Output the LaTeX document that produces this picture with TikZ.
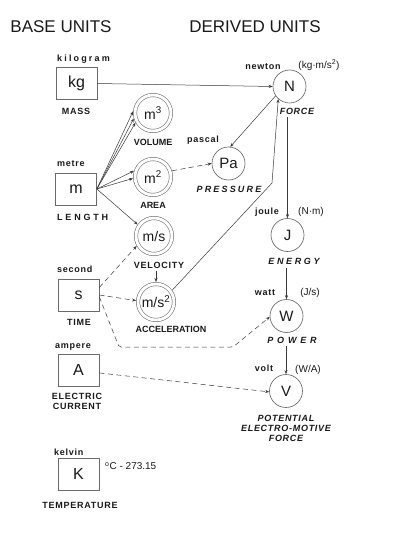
\documentclass[tikz,border=0pt]{standalone}
\usepackage{fontspec}
\setmainfont{Liberation Sans}
\usetikzlibrary{arrows.meta}
\newcommand\lsp[1]{\addfontfeature{LetterSpace=#1}}
\definecolor{txt}{HTML}{1A1A1A}
\definecolor{edgecol}{HTML}{6A6A6A}
\definecolor{conn}{HTML}{3A3A3A}
\begin{document}
\begin{tikzpicture}[x=1pt,y=-1pt,
 every node/.style={text=txt, inner sep=0pt},
 hdr/.style={font=\fontsize{17}{17}\selectfont},
 ubox/.style={draw=edgecol, line width=0.7pt, minimum width=41pt, minimum height=32pt, font=\fontsize{16}{16}\selectfont},
 dc/.style={circle, draw=edgecol, line width=0.55pt, double=white, double distance=2.9pt, minimum size=36pt, outer sep=2pt, font=\fontsize{14}{14}\selectfont},
 sc/.style={circle, draw=edgecol, line width=0.65pt, minimum size=33pt, outer sep=0.3pt, font=\fontsize{15}{15}\selectfont},
 lab/.style={font=\fontsize{9}{10}\selectfont\bfseries\lsp{8}},
 ilab/.style={font=\fontsize{9}{10}\selectfont\bfseries\itshape\lsp{8}},
 unit/.style={font=\fontsize{10}{10}\selectfont},
 arr/.style={draw=conn, line width=0.5pt, -{Stealth[length=4pt,width=3pt]}},
 darr/.style={arr, dash pattern=on 5pt off 3.5pt},
]
\fill[white] (0,0) rectangle (400,545);
\useasboundingbox (0,0) rectangle (400,545);

% headers
\node[hdr] (bu) at (61,27) {BASE UNITS};
\node[hdr] (du) at (255,27) {DERIVED UNITS};

% base unit boxes
\node[ubox] (kg) at (76.5,83.5) {kg};
\node[ubox] (m) at (76,189) {m};
\node[ubox] (s) at (78.5,295) {s};
\node[ubox] (A) at (78.5,370) {A};
\node[ubox] (K) at (78.5,474) {K};

\node[lab, anchor=west, font=\fontsize{9}{10}\selectfont\bfseries\lsp{24}] (kgname) at (57,59) {kilogram};
\node[lab] (kgq) at (76,111) {MASS};
\node[lab, anchor=west] (mname) at (57,164) {metre};
\node[lab, anchor=west, font=\fontsize{9}{10}\selectfont\bfseries] (mq) at (57,217) {L\kern2.8pt E\kern2.8pt N\kern2.8pt G\kern2.8pt T\kern2.8pt H};
\node[lab, anchor=west] (sname) at (57,269) {second};
\node[lab] (sq) at (79,322) {TIME};
\node[lab, anchor=west] (Aname) at (55,347) {ampere};
\node[lab, align=center] (Aq) at (77,401) {ELECTRIC\\CURRENT};
\node[lab, anchor=west] (Kname) at (54,452) {kelvin};
\node[lab] (Kq) at (80,505) {TEMPERATURE};
\node[unit, anchor=west] (Kc) at (105,466) {\textsuperscript{o}C - 273.15};

% compound circles
\node[dc] (m3) at (153,113) {m\textsuperscript{3}};
\node[dc] (m2) at (153,177) {m\textsuperscript{2}};
\node[dc] (ms) at (154,236) {m/s};
\node[dc] (ms2) at (156,302) {m/s\textsuperscript{2}};
\node[lab, font=\fontsize{9}{10}\selectfont\bfseries] (m3q) at (153,142) {VOLUME};
\node[lab, font=\fontsize{9}{10}\selectfont\bfseries] (m2q) at (153,205) {AREA};
\node[lab] (msq) at (159,265) {VELOCITY};
\node[lab, font=\fontsize{9}{10}\selectfont\bfseries] (ms2q) at (171,329) {ACCELERATION};

% derived units
\node[sc] (N) at (289.5,86.5) {N};
\node[lab] (Nname) at (263,67) {newton};
\node[unit] (Nu) at (319,65) {(kg·m/s\textsuperscript{2})};
\node[ilab] (Nq) at (297,111) {FORCE};

\node[sc] (Pa) at (228.5,163.5) {Pa};
\node[lab] (Paname) at (203,140) {pascal};
\node[ilab, font=\fontsize{9}{10}\selectfont\bfseries\itshape\lsp{24}] (Paq) at (229,189) {PRESSURE};

\node[sc] (J) at (287.5,235) {J};
\node[lab] (Jname) at (267,212) {joule};
\node[unit] (Ju) at (311,212) {(N·m)};
\node[ilab, font=\fontsize{9}{10}\selectfont\bfseries\itshape\lsp{29}] (Jq) at (294,261) {ENERGY};

\node[sc] (W) at (286.5,316) {W};
\node[lab] (Wname) at (265,293) {watt};
\node[unit] (Wu) at (310,293) {(J/s)};
\node[ilab, font=\fontsize{9}{10}\selectfont\bfseries\itshape\lsp{42}] (Wq) at (292,340) {POWER};

\node[sc] (V) at (286,391) {V};
\node[lab] (Vname) at (264,368) {volt};
\node[unit] (Vu) at (308,370) {(W/A)};
\node[ilab, align=center] (Vq) at (286,428) {POTENTIAL\\ELECTRO-MOTIVE\\FORCE};

% helper coordinates
\coordinate (Nb) at (287.5,117);
\coordinate (Jb) at (286.5,268);
\coordinate (Wb) at (286,346);
\coordinate (vb) at (156,270.5);
\coordinate (bend) at (272,183);
\coordinate (c1) at (119,347);
\coordinate (c2) at (233,347);

% connectors
\draw[arr] (kg.east) -- (N.west);
\draw[arr] (m.east) -- (m3.175);
\draw[arr] (m.east) -- (m3.196);
\draw[arr] (m.east) -- (m3.209);
\draw[arr] (m.east) -- (m2.162);
\draw[arr] (m.east) -- (m2.184);
\draw[arr] (m.east) -- (ms.145);
\draw[darr] (m2.18) -- (Pa.west);
\draw[arr] (N.214) -- (Pa.84);
\draw[arr] (ms2.36) -- (bend) -- (N.228);
\draw[arr] (Nb) -- (J.north);
\draw[arr] (Jb) -- (W.north);
\draw[arr] (Wb) -- (V.north);
\draw[arr] (vb) -- (ms2.north);
\draw[darr] (s.20) -- (ms.210);
\draw[darr] (s.east) -- (ms2.176);
\draw[darr, rounded corners=2pt] (s.-5) -- (c1) -- (c2) -- (W.183);
\draw[darr] (A.-8) -- (V.183);
\end{tikzpicture}
\end{document}
